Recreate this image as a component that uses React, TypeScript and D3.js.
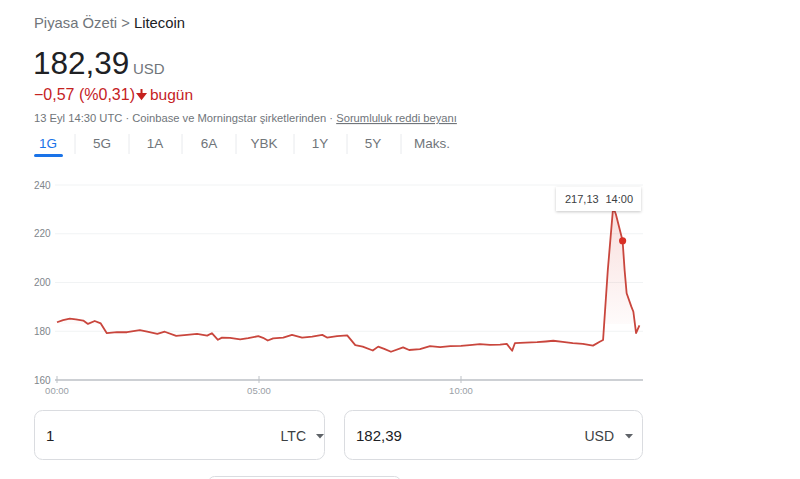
import React from 'react';
import * as d3 from 'd3';

const times = [
  '00:00', '00:09', '00:19', '00:28', '00:39', '00:46', '00:56', '01:05', '01:14', '01:29',
  '01:44', '02:03', '02:14', '02:29', '02:40', '02:57', '03:13', '03:28', '03:43', '03:50',
  '03:59', '04:05', '04:17', '04:32', '04:44', '04:59', '05:06', '05:13', '05:21', '05:36',
  '05:49', '06:04', '06:19', '06:34', '06:41', '06:56', '07:11', '07:23', '07:34', '07:49',
  '07:57', '08:06', '08:16', '08:34', '08:43', '08:59', '09:14', '09:29', '09:44', '10:00',
  '10:13', '10:28', '10:43', '10:58', '11:08', '11:16', '11:20', '11:36', '11:53', '12:06',
  '12:17', '12:31', '12:46', '13:01', '13:16', '13:26', '13:31', '13:38', '13:46', '13:50',
  '14:00', '14:03', '14:06', '14:13', '14:16', '14:20', '14:25'
];
const prices = [
  183.7, 184.6, 185.2, 184.9, 184.4, 183.0, 184.2, 183.2, 179.2, 179.6,
  179.6, 180.5, 179.8, 178.9, 179.8, 178.1, 178.5, 178.9, 178.2, 179.2,
  176.5, 177.4, 177.3, 176.7, 177.2, 178.0, 177.3, 176.2, 177.1, 177.4,
  178.5, 177.4, 177.8, 178.5, 177.4, 178.0, 178.3, 174.3, 173.7, 172.1,
  173.7, 172.8, 171.6, 173.4, 172.3, 172.7, 173.9, 173.5, 173.9, 174.0,
  174.3, 174.7, 174.4, 174.5, 174.8, 172.0, 175.1, 175.3, 175.5, 175.8,
  176.1, 175.6, 175.1, 174.8, 174.1, 175.7, 176.4, 205.0, 231.0, 228.0,
  217.13, 205.0, 195.6, 190.1, 188.0, 179.2, 182.39
];
const yTicks = [160, 180, 200, 220, 240];
const xTicks = ['00:00', '05:00', '10:00'];
const tabs = ['1G', '5G', '1A', '6A', 'YBK', '1Y', '5Y', 'Maks.'];
const prevClose = 182.96;
const hover = { time: '14:00', price: 217.13 };

const font = 'Arial, "Liberation Sans", sans-serif';
const red = '#c5221f';
const lineRed = '#c9463d';
const grey = '#70757a';

export default function App() {
  const parse = d3.timeParse('%H:%M');
  const data = times.map((t, i) => ({ t: parse(t) as Date, v: prices[i] }));

  const x = d3.scaleTime()
    .domain([parse('00:00') as Date, parse('14:30') as Date])
    .range([57, 642.8]);
  const y = d3.scaleLinear().domain([160, 240]).range([380, 185]);

  const line = d3.line<{ t: Date; v: number }>().x(d => x(d.t)).y(d => y(d.v));
  const area = d3.area<{ t: Date; v: number }>()
    .x(d => x(d.t))
    .y0(y(prevClose))
    .y1(d => Math.min(y(d.v), y(prevClose)));

  const hx = x(parse(hover.time) as Date);
  const hy = y(hover.price);

  const tabX = [48, 102, 155, 209, 264, 320, 373, 432];
  const sepX = [75, 129, 182, 236, 294, 347, 401];

  return (
    <svg width={800} height={479} style={{ position: 'absolute', left: 0, top: 0, background: '#fff' }} fontFamily={font}>
      <defs>
        <linearGradient id="peakFill" x1="0" y1="0" x2="0" y2="1">
          <stop offset="0" stopColor="#d93025" stopOpacity={0.16} />
          <stop offset="1" stopColor="#d93025" stopOpacity={0.02} />
        </linearGradient>
        <filter id="tipShadow" x="-20%" y="-40%" width="140%" height="200%">
          <feDropShadow dx="0" dy="1" stdDeviation="1.5" floodColor="#000" floodOpacity={0.22} />
        </filter>
      </defs>

      {/* header */}
      <text x={34} y={28} fontSize={14.8} fill={grey}>
        Piyasa Özeti &gt; <tspan fill="#202124">Litecoin</tspan>
      </text>
      <text x={33} y={74} fontSize={31.5} fill="#202124">182,39</text>
      <text x={133} y={74} fontSize={15} fill={grey}>USD</text>
      <text x={34} y={100} fontSize={16} fill={red}>−0,57 (%0,31)</text>
      <path d="M141.5,89 v6 M138,94 l3.5,4.5 l3.5,-4.5 z" stroke={red} strokeWidth={2} fill={red} />
      <text x={150} y={100} fontSize={15.5} fill={red}>bugün</text>
      <text x={34} y={122} fontSize={11.2} fill={grey}>
        13 Eyl 14:30 UTC · Coinbase ve Morningstar şirketlerinden · <tspan textDecoration="underline">Sorumluluk reddi beyanı</tspan>
      </text>

      {/* range tabs */}
      {tabs.map((t, i) => (
        <text key={t} x={tabX[i]} y={148} fontSize={13.5} textAnchor="middle" fill={i === 0 ? '#1a73e8' : grey}>{t}</text>
      ))}
      {sepX.map(sx => (
        <line key={sx} x1={sx} x2={sx} y1={134} y2={154} stroke="#e8eaed" />
      ))}
      <rect x={34} y={154} width={29} height={3} rx={1.5} fill="#1a73e8" />

      {/* grid and y labels */}
      {yTicks.map(t => (
        <g key={t}>
          {t !== 160 && <line x1={55} x2={643} y1={y(t)} y2={y(t)} stroke="#f1f3f4" />}
          <text x={34} y={y(t) + 3.5} fontSize={10} fill="#80868b">{t}</text>
        </g>
      ))}

      {/* x axis */}
      <line x1={55} x2={643} y1={380} y2={380} stroke="#bdc1c6" strokeWidth={1.5} />
      {xTicks.map(t => {
        const tx = x(parse(t) as Date);
        return (
          <g key={t}>
            <line x1={tx} x2={tx} y1={376} y2={383} stroke="#bdc1c6" />
            <text x={tx} y={394} fontSize={9.5} textAnchor="middle" fill="#9aa0a6">{t}</text>
          </g>
        );
      })}

      {/* series */}
      <path d={area(data) ?? ''} fill="url(#peakFill)" />
      <path d={line(data) ?? ''} fill="none" stroke={lineRed} strokeWidth={1.8} strokeLinejoin="round" />
      <circle cx={hx} cy={hy} r={3.6} fill="#d93025" />

      {/* tooltip */}
      <g filter="url(#tipShadow)">
        <rect x={556} y={187} width={85} height={24} fill="#fff" />
      </g>
      <text x={565} y={203} fontSize={11} fill="#3c4043">217,13</text>
      <text x={633} y={203} fontSize={11} fill="#3c4043" textAnchor="end">{hover.time}</text>

      {/* converter boxes */}
      <rect x={34.5} y={410.5} width={290} height={49} rx={8} fill="#fff" stroke="#dadce0" />
      <text x={46} y={441} fontSize={15} fill="#202124">1</text>
      <text x={306} y={441} fontSize={14} fill="#3c4043" textAnchor="end">LTC</text>
      <path d="M316,434 h8 l-4,4.5 z" fill="#5f6368" />
      <rect x={344.5} y={410.5} width={298} height={49} rx={8} fill="#fff" stroke="#dadce0" />
      <text x={356} y={441} fontSize={15} fill="#202124">182,39</text>
      <text x={614} y={441} fontSize={14} fill="#3c4043" textAnchor="end">USD</text>
      <path d="M625,434 h8 l-4,4.5 z" fill="#5f6368" />
      <rect x={208.5} y={476.5} width={192} height={20} rx={6} fill="#fff" stroke="#dadce0" />
    </svg>
  );
}
